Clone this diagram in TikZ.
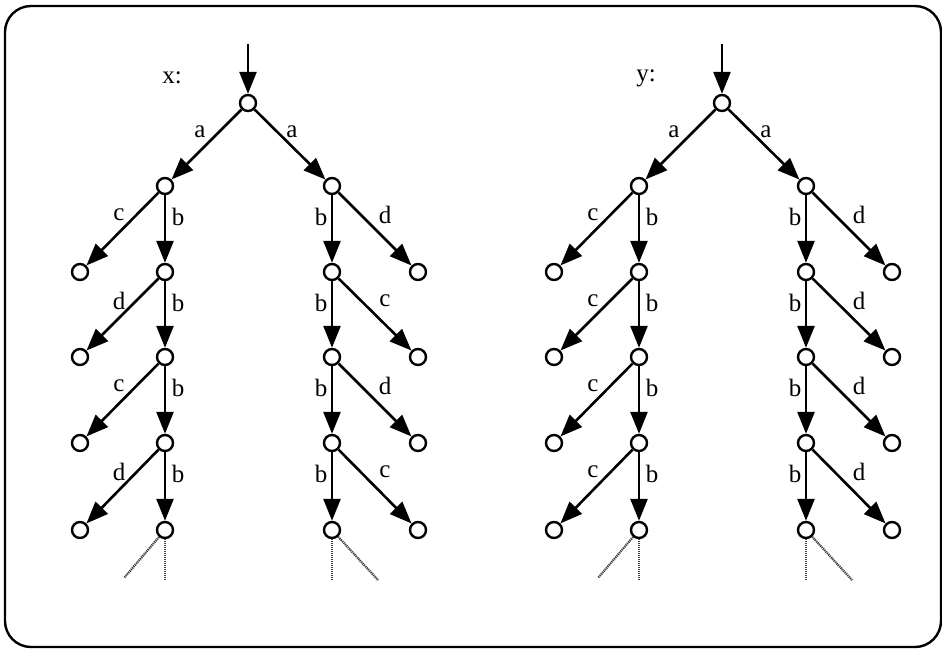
\documentclass[tikz,border=0pt]{standalone}
\usepackage{fontspec}
\setmainfont{Liberation Serif}
\usetikzlibrary{arrows.meta}
\tikzset{
  st/.style={circle,draw,line width=2.4pt,fill=white,minimum size=16pt,inner sep=0pt},
  arr/.style={line width=2.6pt,-{Triangle[length=22pt,width=17pt]}},
  lab/.style={inner sep=0pt,font=\fontsize{25}{28}\selectfont},
  tail/.style={line width=2.2pt,black!75,dash pattern=on 1.2pt off 0.8pt},
  frame/.style={line width=2.4pt,rounded corners=26pt}
}
\newcommand{\mytree}[5]{%
  % #1 prefix, #2 root x, #3 title, #4 left labels, #5 right labels
  \node[st] (#1r) at (#2,103) {};
  \coordinate (#1in) at (#2,44);
  \draw[arr] (#1in) -- (#1r);
  \node[lab] (#1t) at (#2-76,78) {#3};
  \foreach \k/\yy in {0/186,1/272,2/357,3/443,4/530}{
    \node[st] (#1L\k) at (#2-83,\yy) {};
    \node[st] (#1R\k) at (#2+84,\yy) {};
  }
  \foreach \k/\yy in {1/272,2/357,3/443,4/530}{
    \node[st] (#1LL\k) at (#2-168,\yy) {};
    \node[st] (#1RR\k) at (#2+170,\yy) {};
  }
  \draw[arr] (#1r) -- (#1L0);
  \draw[arr] (#1r) -- (#1R0);
  \node[lab] (#1la) at (#2-48,132) {a};
  \node[lab] (#1ra) at (#2+44,132) {a};
  \foreach \k/\lab in {#4}{
    \pgfmathtruncatemacro\p{\k-1}
    \draw[arr] (#1L\p) -- (#1L\k);
    \draw[arr] (#1L\p) -- (#1LL\k);
    \node[lab] (#1lx\k) at ([shift={(-46,29)}]#1L\p.center) {\lab};
    \node[lab] (#1lb\k) at ([shift={(13,31)}]#1L\p.center) {b};
  }
  \foreach \k/\lab in {#5}{
    \pgfmathtruncatemacro\p{\k-1}
    \draw[arr] (#1R\p) -- (#1R\k);
    \draw[arr] (#1R\p) -- (#1RR\k);
    \node[lab] (#1rx\k) at ([shift={(53,29)}]#1R\p.center) {\lab};
    \node[lab] (#1rb\k) at ([shift={(-11,31)}]#1R\p.center) {b};
  }
  \coordinate (#1t1) at (#2-83,580);
  \coordinate (#1t2) at (#2-124,578);
  \coordinate (#1t3) at (#2+84,580);
  \coordinate (#1t4) at (#2+130,580);
  \draw[tail] (#1L4) -- (#1t1);
  \draw[tail] (#1L4) -- (#1t2);
  \draw[tail] (#1R4) -- (#1t3);
  \draw[tail] (#1R4) -- (#1t4);
}
\begin{document}
\begin{tikzpicture}[x=1pt,y=-1pt]
  \useasboundingbox (0,0) rectangle (942,649);
  \draw[frame] (5,6) rectangle (941,647);
  \mytree{x}{248}{x:}{1/c,2/d,3/c,4/d}{1/d,2/c,3/d,4/c}
  \mytree{y}{722}{y:}{1/c,2/c,3/c,4/c}{1/d,2/d,3/d,4/d}
\end{tikzpicture}
\end{document}
